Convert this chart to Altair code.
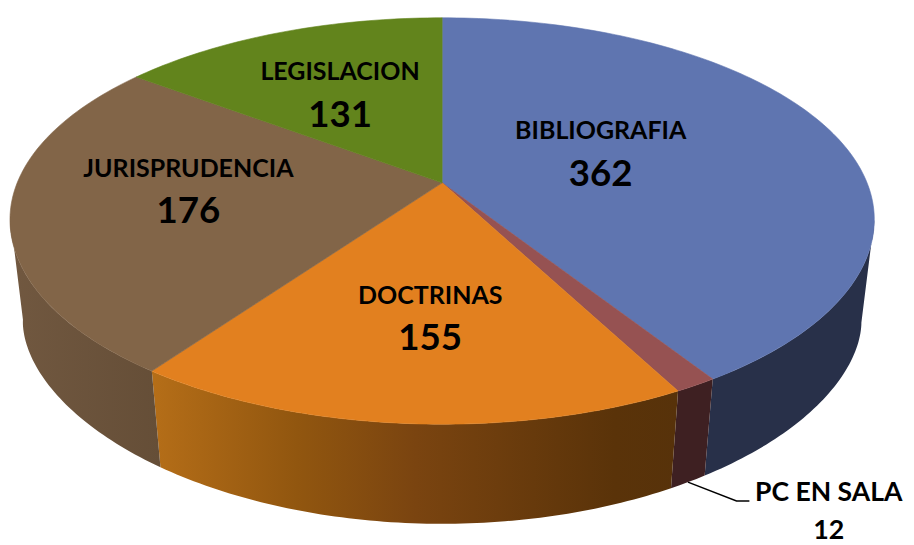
import numpy as np
import pandas as pd
import altair as alt

NAMES = ["BIBLIOGRAFIA", "PC EN SALA", "DOCTRINAS", "JURISPRUDENCIA", "LEGISLACION"]
VALUES = [362, 12, 155, 176, 131]

# styling
TOP = ["#5F75B0", "#965252", "#E2801F", "#826548", "#62841C"]
FONT = "Lato"
NAME_SIZES = [25.2, 26.8, 25.2, 25.2, 25.2]
VALUE_SIZES = [37, 27, 37, 37, 37]

# layout of the tilted pie, in page pixels
APEX = (446.0, 182.0)
CX, CY, AX, B_UP, B_DOWN = 446.0, 219.0, 436.0, 203.5, 206.5
LOW_AX, LOW_CY, LOW_B, LOW_P = 423.0, 323.0, 203.0, 1.1
RIM_REF = [(446, 15), (719, 380), (684, 392), (153, 372), (137, 75)]
NAME_XY = [(606, 130), (836, 495), (434, 296), (190, 168), (343, 70)]
VALUE_XY = [(606, 174), (836, 533), (434, 340), (190, 212), (343, 115)]
LEADER = [(694, 484), (743, 503), (756, 503)]


def to_phi(X, Y):
    b = B_DOWN if Y > CY else B_UP
    return np.arctan2((Y - CY) / b, (X - CX) / AX)


# the drawn pie is warped: shares of the data go to these rim angles
vals = np.array(VALUES, float)
shares = np.concatenate([[0], np.cumsum(vals) / vals.sum()])
knots = np.unwrap([to_phi(*p) for p in RIM_REF] + [to_phi(*RIM_REF[0])])
phis = np.interp(shares, shares, knots)


def rim(phi):
    s, c = np.sin(phi), np.cos(phi)
    return CX + AX * c, CY + (B_DOWN if s > 0 else B_UP) * s


def low(phi):
    s, c = np.sin(phi), np.cos(phi)
    return CX + LOW_AX * c, LOW_CY + LOW_B * np.sign(s) * abs(s) ** LOW_P


def grad(xs, cols):
    lo, hi = xs[0], xs[-1]
    return alt.LinearGradient(
        gradient="linear", x1=0, x2=1, y1=0, y2=0,
        stops=[alt.GradientStop(offset=(x - lo) / (hi - lo), color=c) for x, c in zip(xs, cols)])


WALL_FILL = ["#283049", "#3E2022",
             grad([153, 300, 420, 620, 684], ["#B56E18", "#91560F", "#7A4410", "#5A3309", "#57320A"]),
             grad([10, 162], ["#715840", "#654E37"]),
             None]


def poly(coords, fill):
    return {"type": "Feature", "properties": {"fill": fill},
            "geometry": {"type": "Polygon",
                         "coordinates": [[[float(c[0]) - 8, float(c[1]) - 8] for c in coords]]}}


def fc(features):
    return alt.InlineData(values={"type": "FeatureCollection", "features": features},
                          format=alt.DataFormat(property="features", type="json"))


IDENT = dict(type="identity", scale=1, translate=[0, 0])
wall_layers, tops = [], []
for i in range(len(VALUES)):
    a0, a1 = phis[i], phis[i + 1]
    ts = np.linspace(a0, a1, max(2, int((a1 - a0) * 60)))
    tops.append(poly([APEX] + [rim(t) for t in ts] + [APEX], TOP[i]))
    # only the front of the pie shows its side
    b0, b1 = max(a0, 0.0), min(a1, np.pi + 0.02)
    if b1 > b0:
        vs = np.linspace(b0, b1, max(2, int((b1 - b0) * 60)))
        shape = [rim(t) for t in vs] + [low(t) for t in vs[::-1]]
        shape.append(shape[0])
        wall_layers.append(alt.Chart(fc([poly(shape, "")])).mark_geoshape(
            fill=WALL_FILL[i], strokeWidth=0).project(**IDENT))

top_layer = alt.Chart(fc(tops)).mark_geoshape(strokeWidth=0.6).encode(
    fill=alt.Fill("properties.fill:N", scale=None),
    stroke=alt.Stroke("properties.fill:N", scale=None),
).project(**IDENT)

leader = alt.Chart(fc([{"type": "Feature", "properties": {},
                        "geometry": {"type": "LineString",
                                     "coordinates": [[x - 8, y - 8] for x, y in LEADER]}}])).mark_geoshape(
    filled=False, stroke="#000000", strokeWidth=1.5).project(**IDENT)

labels = pd.DataFrame({
    "name": NAMES, "value": VALUES, "ns": NAME_SIZES, "vs": VALUE_SIZES,
    "nx": [p[0] - 8 for p in NAME_XY], "ny": [p[1] - 8 for p in NAME_XY],
    "vx": [p[0] - 8 for p in VALUE_XY], "vy": [p[1] - 8 for p in VALUE_XY],
})
name_text = alt.Chart(labels).mark_text(font=FONT, fontWeight="bold", color="#000000",
                                        align="center", baseline="middle").encode(
    x=alt.X("nx:Q", scale=None), y=alt.Y("ny:Q", scale=None), text="name:N",
    size=alt.Size("ns:Q", scale=None))
value_text = alt.Chart(labels).mark_text(font=FONT, fontWeight="bold", color="#000000",
                                         align="center", baseline="middle").encode(
    x=alt.X("vx:Q", scale=None), y=alt.Y("vy:Q", scale=None), text="value:N",
    size=alt.Size("vs:Q", scale=None))

chart = alt.layer(leader, *wall_layers, top_layer, name_text, value_text).properties(
    width=906, height=536, padding=0, autosize="none", background="#FFFFFF"
).configure_view(stroke=None)
chart.save("out.html", embed_options={"renderer": "svg", "actions": False})
